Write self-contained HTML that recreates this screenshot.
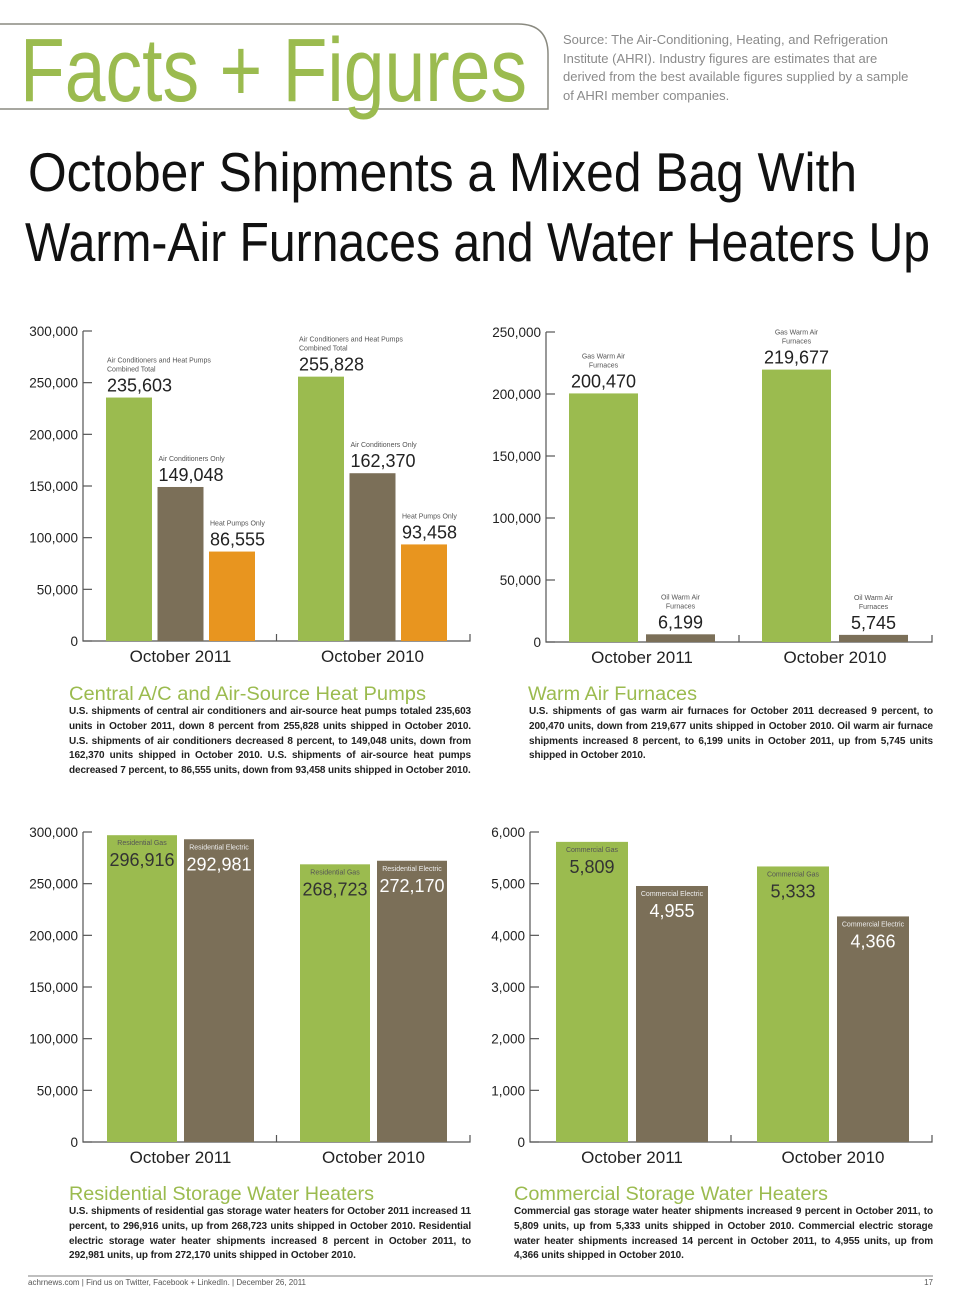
<!DOCTYPE html>
<html><head><meta charset="utf-8">
<style>
html,body{margin:0;padding:0;background:#fff;}
body{width:960px;height:1303px;position:relative;overflow:hidden;font-family:"Liberation Sans",sans-serif;}
svg{position:absolute;left:0;top:0;}
.para{position:absolute;font-size:10px;line-height:14.8px;text-align:justify;text-align-last:left;color:#222;font-weight:bold;letter-spacing:-0.1px;}
.src{position:absolute;left:563px;top:31px;width:350px;font-size:13px;line-height:18.5px;color:#8a8a8a;}
</style></head><body>
<svg width="960" height="1303" viewBox="0 0 960 1303">
  <path d="M0 24 H518 Q548 24 548 54 V109 H0" fill="none" stroke="#8a8a80" stroke-width="1.5"/>
  <text x="20" y="101" font-size="90" fill="#9bbb4f" textLength="507" lengthAdjust="spacingAndGlyphs" font-family="Liberation Sans, sans-serif">Facts + Figures</text>
  <text x="28" y="191" font-size="55" fill="#111" textLength="829" lengthAdjust="spacingAndGlyphs">October Shipments a Mixed Bag With</text>
  <text x="25" y="261" font-size="55" fill="#111" textLength="905" lengthAdjust="spacingAndGlyphs">Warm-Air Furnaces and Water Heaters Up</text>
  <text x="69" y="700" font-size="19" fill="#9bbb4f" textLength="357" lengthAdjust="spacingAndGlyphs">Central A/C and Air-Source Heat Pumps</text>
  <text x="528" y="700" font-size="19" fill="#9bbb4f" textLength="169" lengthAdjust="spacingAndGlyphs">Warm Air Furnaces</text>
  <text x="69" y="1200" font-size="19" fill="#9bbb4f" textLength="305" lengthAdjust="spacingAndGlyphs">Residential Storage Water Heaters</text>
  <text x="514" y="1200" font-size="19" fill="#9bbb4f" textLength="314" lengthAdjust="spacingAndGlyphs">Commercial Storage Water Heaters</text>
  <line x1="28" y1="1276" x2="933" y2="1276" stroke="#aaa" stroke-width="1.5"/>
  <text x="28" y="1285" font-size="8" fill="#555">achrnews.com  |  Find us on Twitter, Facebook + LinkedIn.  |  December 26, 2011</text>
  <text x="933" y="1285" font-size="8" fill="#555" text-anchor="end">17</text>
  <g id="charts"></g>
</svg>
<div class="src">Source: The Air-Conditioning, Heating, and Refrigeration Institute (AHRI). Industry figures are estimates that are derived from the best available figures supplied by a sample of AHRI member companies.</div>
<div class="para" style="left:69px;top:705px;width:402px;">U.S. shipments of central air conditioners and air-source heat pumps totaled 235,603 units in October 2011, down 8 percent from 255,828 units shipped in October 2010. U.S. shipments of air conditioners decreased 8 percent, to 149,048 units, down from 162,370 units shipped in October 2010. U.S. shipments of air-source heat pumps decreased 7 percent, to 86,555 units, down from 93,458 units shipped in October 2010.</div>
<div class="para" style="left:529px;top:705px;width:404px;">U.S. shipments of gas warm air furnaces for October 2011 decreased 9 percent, to 200,470 units, down from 219,677 units shipped in October 2010. Oil warm air furnace shipments increased 8 percent, to 6,199 units in October 2011, up from 5,745 units shipped in October 2010.</div>
<div class="para" style="left:69px;top:1205px;width:402px;">U.S. shipments of residential gas storage water heaters for October 2011 increased 11 percent, to 296,916 units, up from 268,723 units shipped in October 2010. Residential electric storage water heater shipments increased 8 percent in October 2011, to 292,981 units, up from 272,170 units shipped in October 2010.</div>
<div class="para" style="left:514px;top:1205px;width:419px;">Commercial gas storage water heater shipments increased 9 percent in October 2011, to 5,809 units, up from 5,333 units shipped in October 2010. Commercial electric storage water heater shipments increased 14 percent in October 2011, to 4,955 units, up from 4,366 units shipped in October 2010.</div>
<script>
const categories = ["October 2011", "October 2010"];
const acSeriesNames = ["Air Conditioners and Heat Pumps|Combined Total", "Air Conditioners Only", "Heat Pumps Only"];
const acValues2011 = [235603, 149048, 86555];
const acValues2010 = [255828, 162370, 93458];
const acTicks = [0, 50000, 100000, 150000, 200000, 250000, 300000];
const furnaceSeriesNames = ["Gas Warm Air|Furnaces", "Oil Warm Air|Furnaces"];
const furnaceValues2011 = [200470, 6199];
const furnaceValues2010 = [219677, 5745];
const furnaceTicks = [0, 50000, 100000, 150000, 200000, 250000];
const resSeriesNames = ["Residential Gas", "Residential Electric"];
const resValues2011 = [296916, 292981];
const resValues2010 = [268723, 272170];
const resTicks = [0, 50000, 100000, 150000, 200000, 250000, 300000];
const comSeriesNames = ["Commercial Gas", "Commercial Electric"];
const comValues2011 = [5809, 4955];
const comValues2010 = [5333, 4366];
const comTicks = [0, 1000, 2000, 3000, 4000, 5000, 6000];

const NS = "http://www.w3.org/2000/svg";
const COLORS = ["#9bbb4f", "#7b6f58", "#e8951f"];
const root = document.getElementById("charts");
function mk(tag, attrs, parent) {
  const e = document.createElementNS(NS, tag);
  for (const k in attrs) e.setAttribute(k, attrs[k]);
  parent.appendChild(e);
  return e;
}
function fmt(v){ return v.toLocaleString("en-US"); }

function drawChart(cfg) {
  const g = mk("g", {}, root);
  
  
  const maxV = cfg.ticks[cfg.ticks.length - 1];
  const y = v => cfg.y0 - (v / maxV) * (cfg.y0 - cfg.yTop);
  const xBar = (gi, si) => cfg.x0 + cfg.pad + gi * cfg.groupStep + si * cfg.pitch;
  const ax = mk("path", {d:`M${cfg.x0} ${cfg.yTop} V${cfg.y0} H${cfg.xEnd} V${cfg.y0-7} M${(cfg.x0+cfg.xEnd)/2} ${cfg.y0} V${cfg.y0-7}`, fill:"none", stroke:"#555", "stroke-width":1.2}, g);
  
  
  cfg.ticks.forEach(t => {
    const tl = mk("line", {x1:cfg.x0, x2:cfg.x0+9, y1:y(t), y2:y(t), stroke:"#555", "stroke-width":1.2}, g);
    
    
    const tx = mk("text", {x:cfg.x0-5, y:y(t)+5, "font-size":13.5, "text-anchor":"end", fill:"#222"}, g);
    
    
    tx.textContent = fmt(t);
  });
  categories.forEach((c, gi) => {
    const n = cfg.values[gi].length;
    const cx = xBar(gi, 0) + ((n - 1) * cfg.pitch + cfg.w) / 2;
    const ct = mk("text", {x:cx, y:cfg.y0+21, "font-size":17, "text-anchor":"middle", fill:"#222"}, g);
    
    
    ct.textContent = c;
    cfg.values[gi].forEach((v, si) => {
      const bx = xBar(gi, si), by = y(v);
      const r = mk("rect", {x:bx, y:by, width:cfg.w, height:cfg.y0-by, fill:COLORS[si]}, g);
      
      
      const lines = cfg.series[si].split("|");
      if (cfg.inside) {
        const col = si === 0 ? "#333" : "#fff";
        const lx = bx + cfg.w / 2;
        const sl = mk("text", {x:lx, y:by+10, "font-size":7, "text-anchor":"middle", fill: si===0?"#555":"#eee"}, g);
        
        
        sl.textContent = lines[0];
        const vl = mk("text", {x:lx, y:by+31, "font-size":18, "text-anchor":"middle", fill:col}, g);
        
        
        vl.textContent = fmt(v);
      } else {
        const centered = cfg.center;
        const lx = centered ? bx + cfg.w/2 : bx + 1;
        const anchor = centered ? "middle" : "start";
        const vl = mk("text", {x:lx, y:by-6, "font-size":18, "text-anchor":anchor, fill:"#222"}, g);
        
        
        vl.textContent = fmt(v);
        lines.forEach((ln, li) => {
          const sl = mk("text", {x:lx, y:by-26-(lines.length-1-li)*9, "font-size":7, "text-anchor":anchor, fill:"#555"}, g);
          
          
          sl.textContent = ln;
        });
      }
    });
  });
}

drawChart({name:"ac-heat-pump-chart", x0:83, xEnd:470, yTop:331, y0:641, pad:23, groupStep:192, pitch:51.5, w:46,
  ticks:acTicks, series:acSeriesNames, values:[acValues2011, acValues2010], inside:false, center:false});
drawChart({name:"furnace-chart", x0:546, xEnd:932, yTop:332, y0:642, pad:23, groupStep:193, pitch:77, w:69,
  ticks:furnaceTicks, series:furnaceSeriesNames, values:[furnaceValues2011, furnaceValues2010], inside:false, center:true});
drawChart({name:"residential-water-heater-chart", x0:83, xEnd:470, yTop:832, y0:1142, pad:24, groupStep:193, pitch:77, w:70,
  ticks:resTicks, series:resSeriesNames, values:[resValues2011, resValues2010], inside:true});
drawChart({name:"commercial-water-heater-chart", x0:530, xEnd:932, yTop:832, y0:1142, pad:26, groupStep:201, pitch:80, w:72,
  ticks:comTicks, series:comSeriesNames, values:[comValues2011, comValues2010], inside:true});
</script>
</body></html>
